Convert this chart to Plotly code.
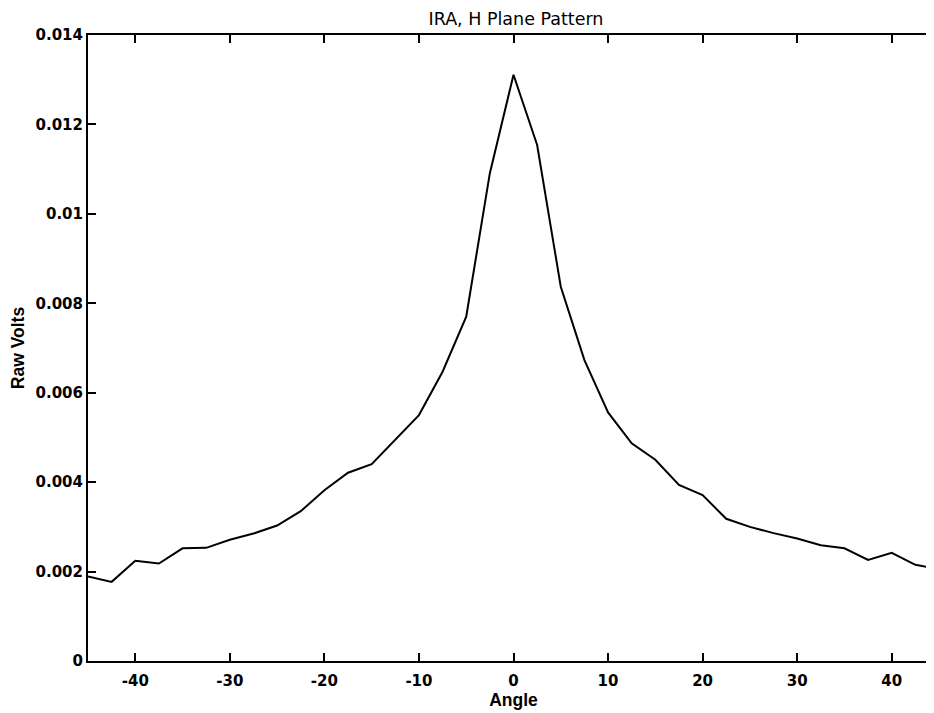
import plotly.graph_objects as go

angles = [-45, -42.5, -40, -37.5, -35, -32.5, -30, -27.5, -25, -22.5, -20, -17.5, -15,
          -12.5, -10, -7.5, -5, -2.5, 0, 2.5, 5, 7.5, 10, 12.5, 15, 17.5, 20, 22.5,
          25, 27.5, 30, 32.5, 35, 37.5, 40, 42.5, 45]
raw_volts = [0.00189, 0.00177, 0.00224, 0.00218, 0.00252, 0.00253, 0.00271, 0.00285,
             0.00303, 0.00335, 0.00382, 0.00421, 0.00440, 0.00494, 0.00550, 0.00647,
             0.00770, 0.01091, 0.01311, 0.01154, 0.00837, 0.00673, 0.00556, 0.00487,
             0.00450, 0.00394, 0.00371, 0.00318, 0.00300, 0.00286, 0.00274, 0.00259,
             0.00252, 0.00226, 0.00242, 0.00215, 0.00206]

x_ticks = [-40, -30, -20, -10, 0, 10, 20, 30, 40]
x_labels = ["-40", "-30", "-20", "-10", "0", "10", "20", "30", "40"]
y_ticks = [0, 0.002, 0.004, 0.006, 0.008, 0.01, 0.012, 0.014]
y_labels = ["0", "0.002", "0.004", "0.006", "0.008", "0.01", "0.012", "0.014"]

tickfont = dict(family="DejaVu Sans", size=15, color="black", weight="bold")
titlefont = dict(family="Liberation Sans", size=17.5, color="black", weight="bold")

fig = go.Figure()
fig.add_trace(go.Scatter(x=angles, y=raw_volts, mode="lines",
                         line=dict(color="black", width=2), showlegend=False))
# invisible trace to drive the right-hand tick marks
fig.add_trace(go.Scatter(x=angles, y=raw_volts, mode="lines", yaxis="y2",
                         line=dict(color="rgba(0,0,0,0)", width=0), showlegend=False,
                         hoverinfo="skip"))

fig.update_layout(
    width=934, height=713,
    margin=dict(l=80, r=3, t=27, b=60, autoexpand=False),
    paper_bgcolor="white", plot_bgcolor="white",
    title=dict(text="IRA, H Plane Pattern", x=(516 - 8) / 934, xanchor="center",
               y=1 - 11 / 713, yanchor="middle", yref="container",
               font=dict(family="DejaVu Sans", size=17.5, color="black", weight=500)),
    xaxis=dict(range=[-45, 45], tickvals=x_ticks, ticktext=x_labels,
               ticks="inside", ticklen=8, automargin=False,
               tickwidth=2, tickcolor="black", showline=True, linecolor="black",
               linewidth=2, mirror="ticks", showgrid=False, zeroline=False,
               tickfont=tickfont, ticklabelstandoff=5,
               title=dict(text="Angle", font=titlefont, standoff=2)),
    yaxis=dict(range=[0, 0.014], tickvals=y_ticks, ticktext=y_labels, ticks="inside",
               ticklen=8, tickwidth=2, tickcolor="black", showline=True,
               linecolor="black", linewidth=2, showgrid=False, zeroline=False,
               tickfont=tickfont, ticklabelstandoff=0, automargin=False,
               title=dict(text="Raw Volts", font=titlefont, standoff=10)),
    yaxis2=dict(range=[0, 0.014], tickvals=y_ticks, overlaying="y", side="right",
                ticks="inside", ticklen=8, tickwidth=2, tickcolor="black",
                automargin=False,
                showline=False, showgrid=False, zeroline=False, showticklabels=False),
)

fig.write_html("out.html")
